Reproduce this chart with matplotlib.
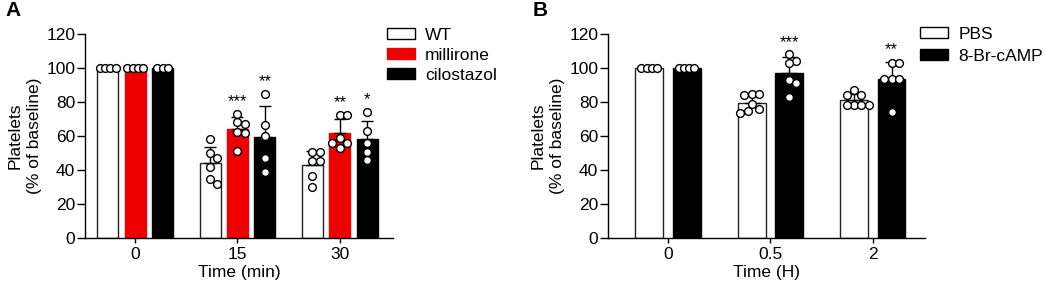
import numpy as np
import matplotlib
matplotlib.use("Agg")
import matplotlib.pyplot as plt
from matplotlib.patches import Patch

plt.rcParams['font.family'] = ['Liberation Sans', 'DejaVu Sans']

# ---------------- data ----------------
# Panel A
a_times = ['0', '15', '30']
a_groups = ['WT', 'millirone', 'cilostazol']
a_wt = [[100, 100, 100, 100],
        [58, 50, 47, 41.5, 35, 32],
        [50.8, 50.8, 45.3, 45.3, 36.5, 29.8]]
a_mil = [[100, 100, 100, 100],
         [73, 68, 67, 62.5, 61.5, 51],
         [72.5, 72.5, 59, 56, 56, 53]]
a_cil = [[100, 100, 100],
         [85, 66.5, 60, 47, 39],
         [74.3, 63, 56, 50.8, 46]]
a_sig = {(1, 1): '***', (1, 2): '**', (2, 1): '**', (2, 2): '*'}

# Panel B
b_times = ['0', '0.5', '2']
b_groups = ['PBS', '8-Br-cAMP']
b_pbs = [[100, 100, 100, 100],
         [85, 85, 84, 79, 76, 75, 73.5],
         [87, 84, 84, 78, 78, 78, 78]]
b_camp = [[100, 100, 100, 100],
          [108, 104.3, 102.7, 93, 91, 83],
          [102.7, 102.7, 93.3, 93.3, 93.3, 74.3]]
b_sig = {(1, 1): '***', (2, 1): '**'}

RED = '#ee0000'
FS = 12.5

W, H = 1045, 288
fig = plt.figure(figsize=(W / 100, H / 100), dpi=100)


def swarm_offsets(vals, xppu, yppu, d=7.4):
    vals = np.asarray(vals, dtype=float)
    n = len(vals)
    if np.ptp(vals) == 0:
        return (np.arange(n) - (n - 1) / 2) * 5.2 / xppu
    order = np.argsort(-vals, kind='stable')
    placed = []
    offs = np.zeros(n)
    cands = sorted(np.arange(-12, 13) * d / 2.0, key=lambda c: (abs(c), c < 0))
    for i in order:
        y = vals[i] * yppu
        chosen = 0.0
        for c in cands:
            if all((c - px) ** 2 + (y - py) ** 2 >= d * d * 0.98 for px, py in placed):
                chosen = c
                break
        placed.append((chosen, y))
        offs[i] = chosen / xppu
    return offs


def panel(rect, times, series, colors, edgecolors, names, offsets, width, xlim,
          capsize, sig, xlabel, letter, letter_xy, legend_anchor, lspace):
    ax = fig.add_axes(rect)
    ax.set_xlim(*xlim)
    ax.set_ylim(0, 120)
    ax_w_px = rect[2] * W
    ax_h_px = rect[3] * H
    xppu = ax_w_px / (xlim[1] - xlim[0])
    yppu = ax_h_px / 120.0
    x0 = np.arange(len(times))
    for s, (data, fc, ec, off) in enumerate(zip(series, colors, edgecolors, offsets)):
        means = np.array([np.mean(d) for d in data])
        sds = np.array([np.std(d, ddof=1) if len(d) > 1 else 0 for d in data])
        xs = x0 + off
        ax.bar(xs, means, width=width, color=fc, edgecolor=ec, linewidth=1.0, zorder=2)
        ax.errorbar(xs, means, yerr=[np.zeros_like(sds), sds], fmt='none',
                    ecolor='black', elinewidth=1.0, capsize=capsize, capthick=1.0, zorder=3)
        for g, d in enumerate(data):
            jo = swarm_offsets(d, xppu, yppu)
            ax.plot(xs[g] + jo, d, 'o', ms=5.6, mfc='white', mec='black', mew=1.0,
                    zorder=4, clip_on=False)
            if (g, s) in sig:
                top = max(max(d), means[g] + sds[g])
                ax.text(xs[g], top + 4.5, sig[(g, s)], ha='center', va='baseline',
                        fontsize=12, clip_on=False)
    for sp in ['top', 'right']:
        ax.spines[sp].set_visible(False)
    for sp in ['left', 'bottom']:
        ax.spines[sp].set_linewidth(1.0)
    ax.set_yticks(np.arange(0, 121, 20))
    ax.set_xticks(x0)
    ax.set_xticklabels(times)
    ax.tick_params(axis='y', length=5.5, width=1.0, labelsize=FS, pad=1.5)
    ax.tick_params(axis='x', length=3.8, width=1.0, labelsize=FS, pad=2.5)
    ax.set_ylabel('Platelets\n(% of baseline)', fontsize=FS, labelpad=3, linespacing=1.35)
    ax.set_xlabel(xlabel, fontsize=FS, labelpad=2)
    fig.text(letter_xy[0] / W, 1 - letter_xy[1] / H, letter, fontsize=15,
             fontweight='bold', ha='left', va='top')
    handles = [Patch(facecolor=fc, edgecolor=('black' if fc == 'white' else fc), linewidth=1.0)
               for fc in colors]
    fig.legend(handles, names, loc='upper left',
               bbox_to_anchor=(legend_anchor[0] / W, 1 - legend_anchor[1] / H),
               frameon=False, fontsize=FS, handlelength=1.6, handleheight=0.6,
               handletextpad=0.6, labelspacing=lspace, borderpad=0, borderaxespad=0)
    return ax


axA_rect = [85 / W, 1 - 238 / H, (393 - 85) / W, (238 - 34) / H]
panel(axA_rect, a_times, [a_wt, a_mil, a_cil], ['white', RED, 'black'],
      ['#222222', RED, 'black'], a_groups, [-0.268, 0.0, 0.268], 0.205,
      (-0.49, 2.52), 4.3, a_sig, 'Time (min)', 'A', (5, 1), (387, 28), 0.28)

axB_rect = [608 / W, 1 - 238 / H, (925 - 608) / W, (238 - 34) / H]
panel(axB_rect, b_times, [b_pbs, b_camp], ['white', 'black'],
      ['#222222', 'black'], b_groups, [-0.183, 0.183], 0.273,
      (-0.585, 2.51), 5.4, b_sig, 'Time (H)', 'B', (533, 1), (920, 27), 0.38)

fig.savefig('out.png', dpi=100)
